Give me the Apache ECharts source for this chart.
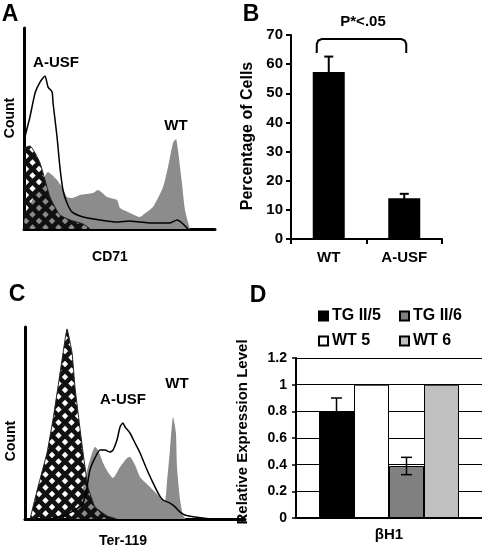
<!DOCTYPE html>
<html><head><meta charset="utf-8">
<script src="https://cdn.jsdelivr.net/npm/echarts@6/dist/echarts.min.js"></script>
<style>html,body{margin:0;padding:0;background:#fff}#c{width:482px;height:548px}</style>
</head><body><div id="c"></div>
<script>
// ---------- Panel A : CD71 histograms (x: channel %, y: relative count %) ----------
const cd71WT = [[0,0],[0.5,7],[5.8,17],[9.9,24.4],[12.6,28.4],[14.7,26.9],[17.3,24.4],[19.9,20.9],[22.5,15.9],[25.1,15.4],[29.3,16.9],[36.1,17.9],[38.7,19.4],[43.5,15.9],[48.7,14.4],[50.3,10.4],[55.5,8],[60.7,6],[62.3,7],[67.5,10.9],[72.8,20.9],[75.4,30.8],[78,42.8],[79.6,44.8],[80.6,39.3],[82.7,22.9],[84.3,9.5],[86.9,0]];
const cd71AUSF = [[0,44],[3.1,55.7],[5.8,67.7],[8.4,73.1],[11,76.1],[12.6,70.6],[14.7,68.2],[15.2,62.7],[17.3,45.8],[18.8,30.8],[20.4,19.4],[22.5,12.9],[25.1,8.5],[30.9,6],[39.8,4.5],[48.7,3.5],[55,4],[60.7,3.5],[66,3],[71.2,3],[76.4,3],[80.1,4.5],[82.7,3],[85.9,0]];
const cd71Iso = [[0,40.3],[3.1,41.3],[5.8,37.8],[8.4,32.8],[11,24.4],[13.6,15.9],[16.2,10.9],[18.8,7],[24.1,4.5],[30.9,2.5],[34.6,0]];

// ---------- Panel B : percentage of cells ----------
const bCategories = ['WT', 'A-USF'];
const bValues = [57.3, 14.0];
const bErrors = [5.3, 1.5];
const bTickLabels = ['0','10','20','30','40','50','60','70'];
const bBracket = [68.6, 63.8]; // top, leg bottom
const bPText = 'P*<.05';

// ---------- Panel C : Ter-119 histograms ----------
const ter119WT = [[22.7,0],[26.4,16.7],[28.6,27.1],[30.5,34.4],[31.8,37.5],[33.2,35.9],[35.5,29.2],[37.7,24.5],[40,21.4],[43.2,27.1],[46.4,31.8],[47.7,32.3],[50,28.1],[52.3,21.9],[56.8,16.7],[61.4,11.5],[63.6,9.9],[64.5,18.8],[65.9,35.9],[67.3,53.1],[68.6,44.8],[69.1,27.1],[70.5,9.9],[71.8,2.1],[73.2,0]];
const ter119AUSF = [[11.4,0],[18.2,2.1],[22.7,4.7],[26.4,8.3],[28.2,16.7],[29.5,25.5],[31.8,31.8],[34.1,35.9],[36.4,35.9],[38.6,34.9],[40,35.9],[41.8,41.1],[43.2,47.9],[44.5,50],[45.5,47.9],[47.7,44.8],[50,39.6],[52.3,34.4],[55.5,25.5],[58.2,18.8],[60.5,13.5],[62.7,9.9],[65.9,8.3],[68.2,6.3],[70.5,3.6],[72.7,2.1],[77.3,1],[84.1,0]];
const ter119Iso = [[2.3,0],[5.9,16.7],[10,34.4],[12.7,51.6],[15,68.8],[17.3,86.5],[19.1,99],[21.4,86.5],[22.7,68.8],[24.5,51.6],[26.4,34.4],[28.6,16.7],[31.8,6.3],[37.3,1.6],[41.8,0]];

// ---------- Panel D : relative expression ----------
const dCategories = ['βH1'];
const dSeriesNames = ['TG II/5', 'WT 5', 'TG II/6', 'WT 6'];
const dValues = [0.8, 1.0, 0.39, 1.0];
const dErrors = [0.1, 0, 0.065, 0];
const dTickLabels = ['0','0.2','0.4','0.6','0.8','1','1.2'];

const FONT = '"Liberation Sans", Arial, Helvetica, sans-serif';
const dColors = ['#000000', '#ffffff', '#808080', '#c0c0c0'];
const D_BAR_W = 35;

function makeHatch() {
  const s = 13, c = document.createElement('canvas');
  c.width = s; c.height = s;
  const g = c.getContext('2d');
  g.fillStyle = '#111';
  g.fillRect(0, 0, s, s);
  g.globalCompositeOperation = 'destination-out';
  const r = 3.2;
  [[s/2, s/2], [0, 0], [s, 0], [0, s], [s, s]].forEach(([x, y]) => {
    g.beginPath();
    g.moveTo(x, y - r); g.lineTo(x + r, y); g.lineTo(x, y + r); g.lineTo(x - r, y);
    g.closePath(); g.fill();
  });
  return c;
}
const hatch = { image: makeHatch(), repeat: 'repeat' };

const chart = echarts.init(document.getElementById('c'), null, { renderer: 'canvas' });

function histAxis(idx) {
  return {
    type: 'value', gridIndex: idx, min: 0, max: 100,
    axisLine: { show: true, onZero: false, lineStyle: { color: '#000', width: 3 } },
    axisTick: { show: false }, axisLabel: { show: false }, splitLine: { show: false }
  };
}
function txt(text, x, y, size, rot, extra) {
  return Object.assign({
    type: 'text', x: x, y: y, rotation: rot || 0, z: 100,
    style: { text: text, font: 'bold ' + size + 'px ' + FONT, fill: '#000', align: 'center', verticalAlign: 'middle' }
  }, extra || {});
}

const option = {
  animation: false,
  backgroundColor: '#fff',
  textStyle: { fontFamily: FONT },
  grid: [
    { left: 24, top: 28, width: 191, height: 201 },
    { left: 291, top: 35, width: 151, height: 204 },
    { left: 25, top: 327, width: 220, height: 192 },
    { left: 296, top: 358, width: 192, height: 160 }
  ],
  xAxis: [
    histAxis(0),
    {
      type: 'category', gridIndex: 1, data: bCategories,
      axisLine: { lineStyle: { color: '#000', width: 2 } },
      axisTick: { show: true, length: 5, lineStyle: { color: '#000', width: 2 } },
      axisLabel: { color: '#000', fontWeight: 'bold', fontSize: 15, margin: 11, fontFamily: FONT }
    },
    histAxis(2),
    {
      type: 'category', gridIndex: 3, data: dCategories,
      axisLine: { lineStyle: { color: '#000', width: 2 } },
      axisTick: { show: false },
      axisLabel: { color: '#000', fontWeight: 'bold', fontSize: 15, margin: 9, fontFamily: FONT }
    }
  ],
  yAxis: [
    histAxis(0),
    {
      type: 'value', gridIndex: 1, min: 0, max: 70, interval: 10,
      axisLine: { show: true, lineStyle: { color: '#000', width: 2 } },
      axisTick: { show: true, length: 5, lineStyle: { color: '#000', width: 2 } },
      axisLabel: { color: '#000', fontWeight: 'bold', fontSize: 15, margin: 8, fontFamily: FONT,
        formatter: (v) => bTickLabels[Math.round(v / 10)] },
      splitLine: { show: false }
    },
    histAxis(2),
    {
      type: 'value', gridIndex: 3, min: 0, max: 1.2, interval: 0.2,
      axisLine: { show: true, lineStyle: { color: '#000', width: 2 } },
      axisTick: { show: true, length: 4, lineStyle: { color: '#000', width: 1.5 } },
      axisLabel: { color: '#000', fontWeight: 'bold', fontSize: 14, margin: 9, fontFamily: FONT,
        formatter: (v) => dTickLabels[Math.round(v / 0.2)] },
      splitLine: { show: true, lineStyle: { color: '#000', width: 1.2 } }
    }
  ],
  legend: [
    [dSeriesNames[0], 318, 308], [dSeriesNames[2], 399, 308],
    [dSeriesNames[1], 318, 333], [dSeriesNames[3], 399, 333]
  ].map(([n, l, t]) => ({
    data: [n], left: l, top: t, padding: 0, icon: 'rect', itemWidth: 9, itemHeight: 9, itemGap: 4,
    selectedMode: false,
    textStyle: { color: '#000', fontWeight: 'bold', fontSize: 16, fontFamily: FONT, padding: [0, 0, 0, -1] }
  })),
  series: [
    // Panel A
    { type: 'line', xAxisIndex: 0, yAxisIndex: 0, data: cd71WT, showSymbol: false, smooth: 0.2,
      lineStyle: { width: 0 }, areaStyle: { color: '#8c8c8c', opacity: 1 }, z: 2 },
    { type: 'line', xAxisIndex: 0, yAxisIndex: 0, data: cd71Iso, showSymbol: false, smooth: 0.2,
      lineStyle: { width: 1, color: '#222' }, areaStyle: { color: hatch, opacity: 1 }, z: 3 },
    { type: 'line', xAxisIndex: 0, yAxisIndex: 0, data: cd71AUSF, showSymbol: false, smooth: 0.2,
      lineStyle: { width: 1.5, color: '#000' }, z: 4 },
    // Panel B bars
    { type: 'bar', xAxisIndex: 1, yAxisIndex: 1, data: bValues, barWidth: 32,
      itemStyle: { color: '#000' }, z: 2 },
    // Panel B error bars
    { type: 'custom', xAxisIndex: 1, yAxisIndex: 1, z: 5,
      data: bValues.map((v, i) => [i, v, bErrors[i]]),
      renderItem: (params, api) => {
        const i = api.value(0), v = api.value(1), e = api.value(2);
        const t = api.coord([i, v + e]), b = api.coord([i, v - e]);
        const w = 4.5, st = { stroke: '#000', lineWidth: 2 };
        return { type: 'group', children: [
          { type: 'line', shape: { x1: t[0], y1: t[1], x2: b[0], y2: b[1] }, style: st },
          { type: 'line', shape: { x1: t[0] - w, y1: t[1], x2: t[0] + w, y2: t[1] }, style: st },
          { type: 'line', shape: { x1: b[0] - w, y1: b[1], x2: b[0] + w, y2: b[1] }, style: st }
        ] };
      } },
    // Panel B significance bracket
    { type: 'custom', xAxisIndex: 1, yAxisIndex: 1, z: 5,
      data: [[0, bBracket[0], bBracket[1]]],
      renderItem: (params, api) => {
        const top = api.value(1), bot = api.value(2);
        const l = api.coord([0, top]), r = api.coord([1, top]), yb = api.coord([0, bot])[1];
        const x1 = l[0] - 12, x2 = r[0] + 2, yt = l[1];
        return { type: 'polyline', shape: { points: [
          [x1, yb], [x1, yt + 5], [x1 + 1.5, yt + 1.5], [x1 + 5, yt],
          [x2 - 5, yt], [x2 - 1.5, yt + 1.5], [x2, yt + 5], [x2, yb]] },
          style: { stroke: '#000', lineWidth: 2, fill: null } };
      } },
    // Panel C
    { type: 'line', xAxisIndex: 2, yAxisIndex: 2, data: ter119WT, showSymbol: false, smooth: 0.2,
      lineStyle: { width: 0 }, areaStyle: { color: '#8c8c8c', opacity: 1 }, z: 2 },
    { type: 'line', xAxisIndex: 2, yAxisIndex: 2, data: ter119Iso, showSymbol: false, smooth: 0.1,
      lineStyle: { width: 1, color: '#222' }, areaStyle: { color: hatch, opacity: 1 }, z: 3 },
    { type: 'line', xAxisIndex: 2, yAxisIndex: 2, data: ter119AUSF, showSymbol: false, smooth: 0.2,
      lineStyle: { width: 1.5, color: '#000' }, z: 4 },
    // Panel D bars
    ...dSeriesNames.map((n, i) => ({
      name: n, type: 'bar', xAxisIndex: 3, yAxisIndex: 3, data: [dValues[i]],
      barWidth: D_BAR_W, barGap: '0%',
      itemStyle: { color: dColors[i], borderColor: '#000', borderWidth: 1 }, z: 2
    })),
    // Panel D error bars
    { type: 'custom', xAxisIndex: 3, yAxisIndex: 3, z: 5,
      data: dValues.map((v, i) => [0, v, dErrors[i], i]).filter(d => d[2] > 0),
      renderItem: (params, api) => {
        const v = api.value(1), e = api.value(2), k = api.value(3);
        const off = (k - (dValues.length - 1) / 2) * D_BAR_W;
        const t = api.coord([0, v + e]), b = api.coord([0, v - e]);
        const x = t[0] + off, w = 5.5, st = { stroke: '#000', lineWidth: 1.5 };
        return { type: 'group', children: [
          { type: 'line', shape: { x1: x, y1: t[1], x2: x, y2: b[1] }, style: st },
          { type: 'line', shape: { x1: x - w, y1: t[1], x2: x + w, y2: t[1] }, style: st },
          { type: 'line', shape: { x1: x - w, y1: b[1], x2: x + w, y2: b[1] }, style: st }
        ] };
      } }
  ],
  graphic: [
    txt('A', 10, 15, 23), txt('B', 251, 15, 23), txt('C', 17, 295, 23), txt('D', 258, 296, 23),
    txt('Count', 10, 118, 14, Math.PI / 2), txt('CD71', 110, 257, 14),
    txt('A-USF', 56, 63, 15), txt('WT', 176, 126, 15),
    txt('Count', 11, 441, 14, Math.PI / 2), txt('Ter-119', 123, 541, 14),
    txt('A-USF', 123, 400, 15), txt('WT', 177, 384, 15),
    txt(bPText, 363, 22, 15),
    txt('Percentage of Cells', 248, 136, 16, Math.PI / 2),
    txt('Relative Expression Level', 243, 432, 15, Math.PI / 2)
  ]
};
chart.setOption(option);
</script>
</body></html>
